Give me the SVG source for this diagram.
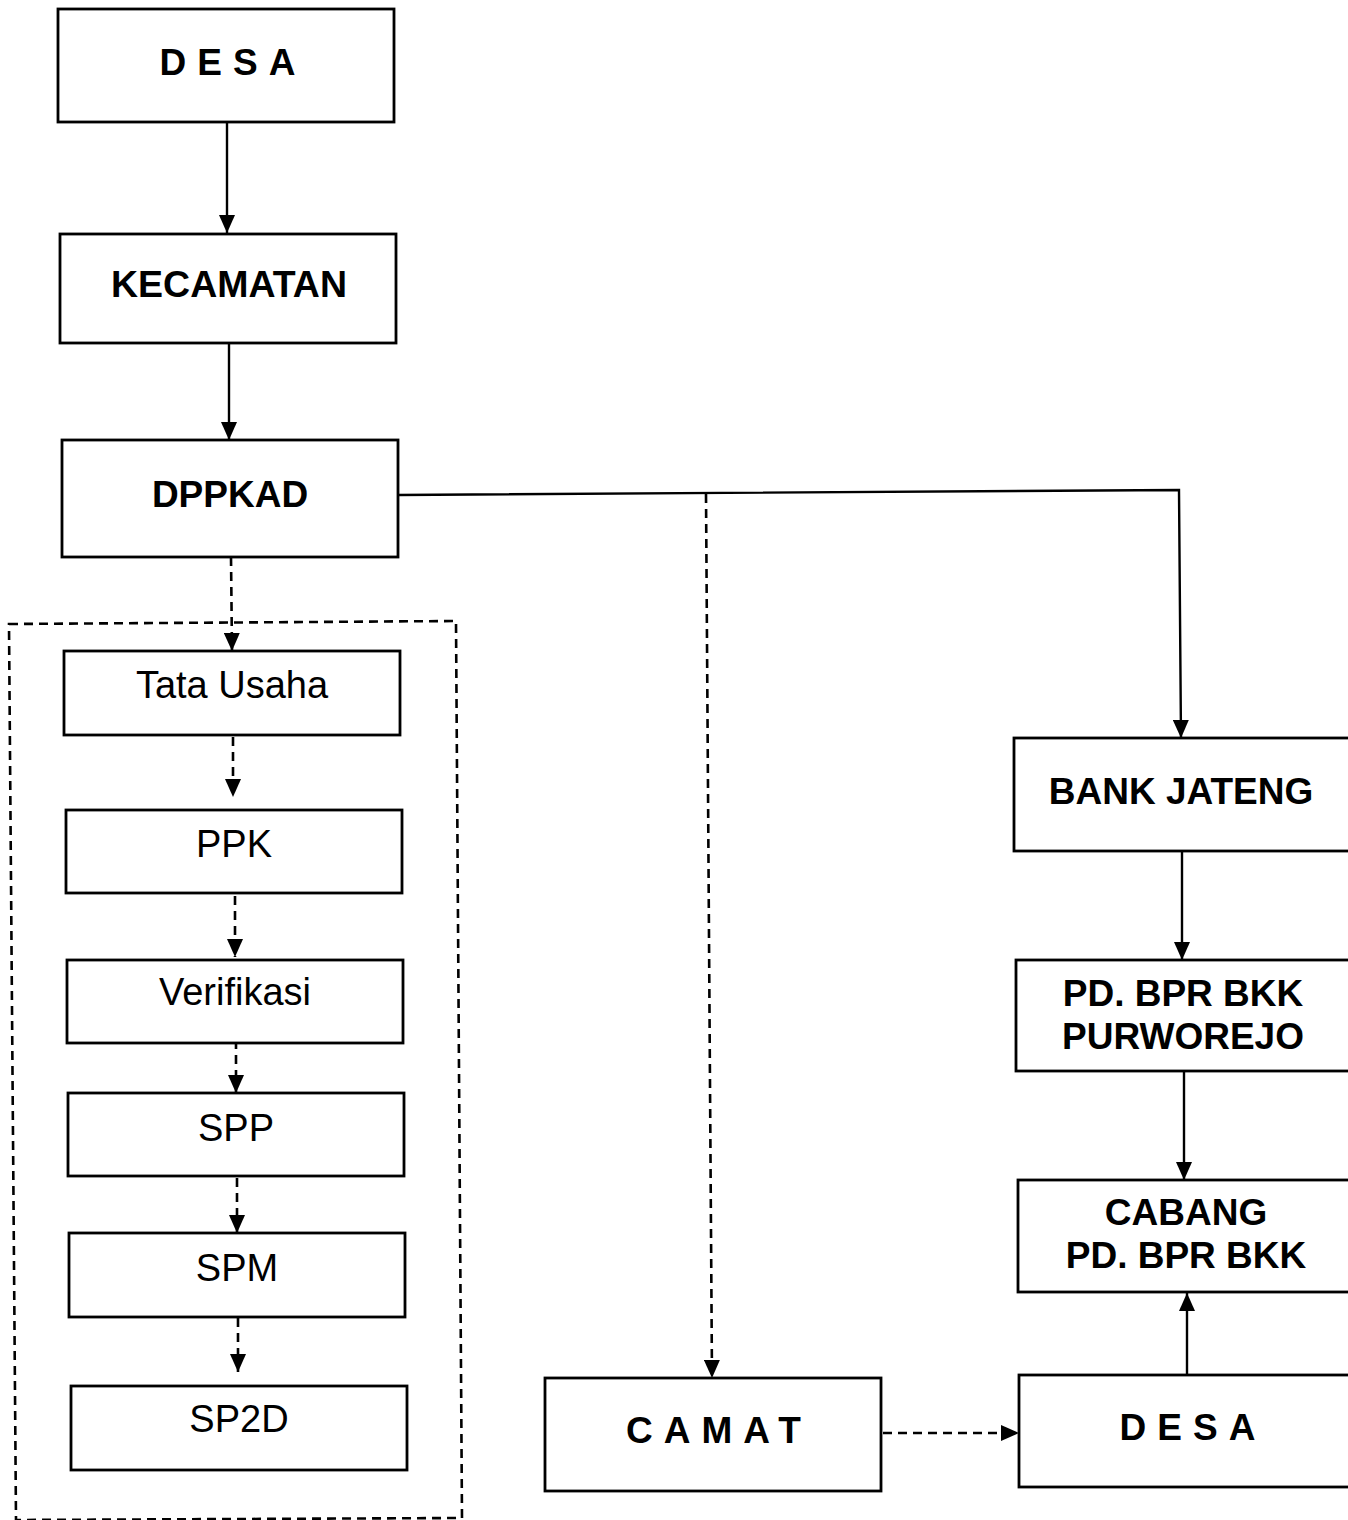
<svg xmlns="http://www.w3.org/2000/svg" width="1348" height="1520" viewBox="0 0 1348 1520">
<style>
.box{fill:#fff;stroke:#000;stroke-width:2.8}
.b{font-family:"Liberation Sans",Arial,sans-serif;font-weight:bold;font-size:37px;text-anchor:middle;fill:#000}
.r{font-family:"Liberation Sans",Arial,sans-serif;font-size:38px;text-anchor:middle;fill:#000}
.sp{letter-spacing:11px}
.s{fill:none;stroke:#000;stroke-width:2.4}
.d{fill:none;stroke:#000;stroke-width:2.6;stroke-dasharray:9 6}
</style>
<defs>
<marker id="ah" viewBox="0 0 18 16" refX="18" refY="8" markerWidth="18" markerHeight="16" markerUnits="userSpaceOnUse" orient="auto">
<path d="M0,0 L18,8 L0,16 Z" fill="#000"/>
</marker>
</defs>
<rect width="1348" height="1520" fill="#fff"/>
<g id="container"><path class="d" d="M9,624 L456,621 L462,1518 L16,1520 Z" fill="none"/></g>
<g id="connectors">
<line class="s" x1="227" y1="122" x2="227" y2="233" marker-end="url(#ah)"/>
<line class="s" x1="229" y1="328" x2="229" y2="440" marker-end="url(#ah)"/>
<line class="d" x1="231" y1="557" x2="232" y2="651" marker-end="url(#ah)"/>
<line class="d" x1="233" y1="737" x2="233" y2="797" marker-end="url(#ah)"/>
<line class="d" x1="235" y1="896" x2="235" y2="957" marker-end="url(#ah)"/>
<line class="d" x1="236" y1="1040" x2="236" y2="1093" marker-end="url(#ah)"/>
<line class="d" x1="237" y1="1178" x2="237" y2="1233" marker-end="url(#ah)"/>
<line class="d" x1="238" y1="1318" x2="238" y2="1372" marker-end="url(#ah)"/>
<polyline class="s" points="398,495 1179,490 1181,738" marker-end="url(#ah)"/>
<line class="d" x1="706" y1="494" x2="712" y2="1378" marker-end="url(#ah)"/>
<line class="d" x1="883" y1="1433" x2="1019" y2="1433" marker-end="url(#ah)"/>
<line class="s" x1="1182" y1="851" x2="1182" y2="960" marker-end="url(#ah)"/>
<line class="s" x1="1184" y1="1071" x2="1184" y2="1180" marker-end="url(#ah)"/>
<line class="s" x1="1187" y1="1375" x2="1187" y2="1293" marker-end="url(#ah)"/>
</g>
<g id="desa-top"><rect class="box" x="58" y="9" width="336" height="113"/><text class="b sp" x="233" y="75">DESA</text></g>
<g id="kecamatan"><rect class="box" x="60" y="234" width="336" height="109"/><text class="b" x="229" y="297" textLength="236" lengthAdjust="spacingAndGlyphs">KECAMATAN</text></g>
<g id="dppkad"><rect class="box" x="62" y="440" width="336" height="117"/><text class="b" x="230" y="507">DPPKAD</text></g>
<g id="tata-usaha"><rect class="box" x="64" y="651" width="336" height="84"/><text class="r" x="232" y="698">Tata Usaha</text></g>
<g id="ppk"><rect class="box" x="66" y="810" width="336" height="83"/><text class="r" x="234" y="857">PPK</text></g>
<g id="verifikasi"><rect class="box" x="67" y="960" width="336" height="83"/><text class="r" x="235" y="1005">Verifikasi</text></g>
<g id="spp"><rect class="box" x="68" y="1093" width="336" height="83"/><text class="r" x="236" y="1141">SPP</text></g>
<g id="spm"><rect class="box" x="69" y="1233" width="336" height="84"/><text class="r" x="237" y="1281">SPM</text></g>
<g id="sp2d"><rect class="box" x="71" y="1386" width="336" height="84"/><text class="r" x="239" y="1432">SP2D</text></g>
<g id="camat"><rect class="box" x="545" y="1378" width="336" height="113"/><text class="b sp" x="719" y="1443">CAMAT</text></g>
<g id="bank-jateng"><rect class="box" x="1014" y="738" width="340" height="113"/><text class="b" x="1181" y="804">BANK JATENG</text></g>
<g id="pd-bpr-bkk"><rect class="box" x="1016" y="960" width="340" height="111"/><text class="b" x="1183" y="1006">PD. BPR BKK</text><text class="b" x="1183" y="1049">PURWOREJO</text></g>
<g id="cabang"><rect class="box" x="1018" y="1180" width="340" height="112"/><text class="b" x="1186" y="1225">CABANG</text><text class="b" x="1186" y="1268">PD. BPR BKK</text></g>
<g id="desa-bottom"><rect class="box" x="1019" y="1375" width="340" height="112"/><text class="b sp" x="1193" y="1440">DESA</text></g>
</svg>
